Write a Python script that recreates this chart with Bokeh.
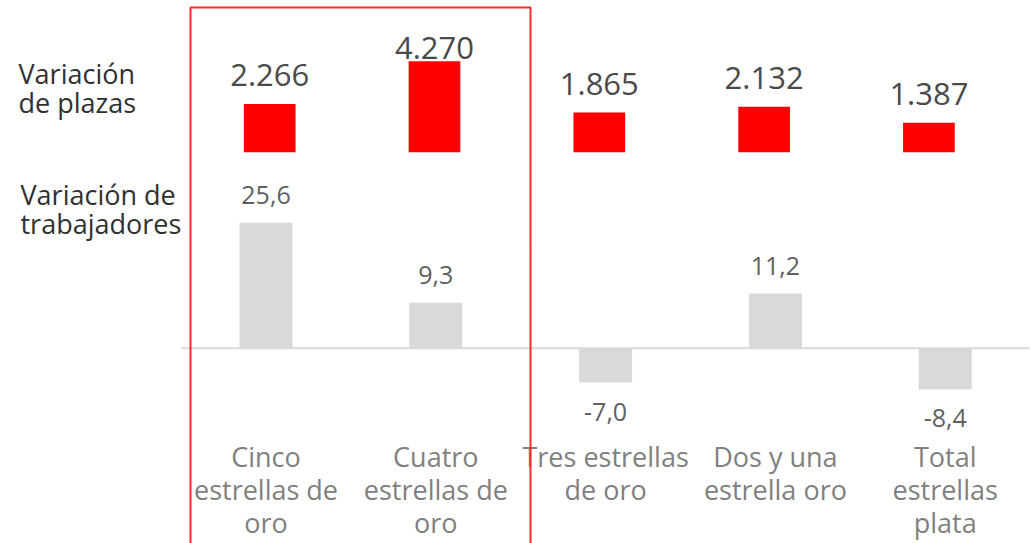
import numpy as np
from bokeh.plotting import figure
from bokeh.models import Range1d, ColumnDataSource
from bokeh.core.properties import value
from bokeh.embed import file_html
from bokeh.resources import INLINE

# ---------------- data ----------------
categories = [
    "Cinco\nestrellas de\noro",
    "Cuatro\nestrellas de\noro",
    "Tres estrellas\nde oro",
    "Dos y una\nestrella oro",
    "Total\nestrellas\nplata",
]
plazas = [2266, 4270, 1865, 2132, 1387]          # Variación de plazas
trabajadores = [25.6, 9.3, -7.0, 11.2, -8.4]      # Variación de trabajadores
highlight = [0, 1]                                 # boxed categories
row_titles = ["Variación\nde plazas", "Variación de\ntrabajadores"]

# ---------------- layout (pixels) ----------------
W, H = 1031, 543
FONT = value("Open Sans")
DY = 9.5   # baseline correction (px) for the text renderer
# lower (grey) chart: category 0 centre, spacing, zero line, px per unit
GX0, GDX, GY0, GSC = 265.5, 169.8, 347.8, 4.9
# upper (red) chart
RX0, RDX, RY0, RSC = 269.2, 164.8, 151.7, 0.02128

def gx(px):
    return (px - GX0) / GDX

def gy(py):
    return (GY0 - py) / GSC

p = figure(width=W, height=H, output_backend="svg", toolbar_location=None,
           x_axis_location=None, y_axis_location=None,
           x_range=Range1d(gx(0), gx(W)), y_range=Range1d(gy(H), gy(0)),
           min_border=0, outline_line_color=None,
           background_fill_color="white", border_fill_color="white")
p.grid.visible = False
p.extra_x_ranges = {"r": Range1d(-RX0 / RDX, (W - RX0) / RDX)}
p.extra_y_ranges = {"r": Range1d(-(H - RY0) / RSC, RY0 / RSC)}

idx = np.arange(len(categories))
plz = np.array(plazas, dtype=float)
trb = np.array(trabajadores, dtype=float)

# zero line of lower chart
p.segment(x0=[gx(181)], y0=[0], x1=[gx(1029)], y1=[0],
          line_color="#D9D9D9", line_width=2)

# grey bars
p.vbar(x=idx, top=trb, bottom=0, width=53 / GDX,
       fill_color="#D9D9D9", line_color=None)

# red bars
p.vbar(x=idx, top=plz, bottom=0, width=51.7 / RDX,
       fill_color="#FF0000", line_color=None,
       x_range_name="r", y_range_name="r")

# red value labels (clamped at top of plot area like the original)
red_lab_y = np.minimum(plz + (19.5 + DY) / RSC, (RY0 - 57 + DY) / RSC)
red_src = ColumnDataSource(dict(
    x=idx, y=red_lab_y,
    t=[f"{int(v):,}".replace(",", ".") for v in plazas]))
p.text(x="x", y="y", text="t", source=red_src, x_range_name="r", y_range_name="r",
       text_font=FONT, text_font_size="31px", text_color="#4A4A4A",
       text_align="center", text_baseline="alphabetic")

# grey value labels
g_lab_y = np.where(trb >= 0, trb + (18 + DY) / GSC, trb - (38.5 - DY) / GSC)
g_src = ColumnDataSource(dict(
    x=idx, y=g_lab_y,
    t=[f"{v:.1f}".replace(".", ",") for v in trabajadores]))
p.text(x="x", y="y", text="t", source=g_src,
       text_font=FONT, text_font_size="25px", text_color="#5F5F5F",
       text_align="center", text_baseline="alphabetic")

# category labels (one glyph row per text line)
cx, cy, ct = [], [], []
for i, c in enumerate(categories):
    for j, line in enumerate(c.split("\n")):
        cx.append(i)
        cy.append(gy(465 - DY + 33 * j))
        ct.append(line)
p.text(x=cx, y=cy, text=ct,
       text_font=FONT, text_font_size="27px", text_color="#808080",
       text_align="center", text_baseline="alphabetic")

# row titles on the left
tx, ty, tt = [], [], []
for (left, base), title in zip([(18, 82), (20, 203)], row_titles):
    for j, line in enumerate(title.split("\n")):
        tx.append(gx(left))
        ty.append(gy(base - DY + 29 * j))
        tt.append(line)
p.text(x=tx, y=ty, text=tt,
       text_font=FONT, text_font_size="27px", text_color="#303030",
       text_align="left", text_baseline="alphabetic")

# red highlight box around the first two categories
p.quad(left=[highlight[0] + gx(190)], right=[highlight[-1] + (530 - GX0 - GDX) / GDX],
       top=[gy(7)], bottom=[gy(H + 20)],
       fill_color=None, line_color="#FF2A2A", line_width=2)

open("out.html", "w").write(file_html(p, INLINE))
